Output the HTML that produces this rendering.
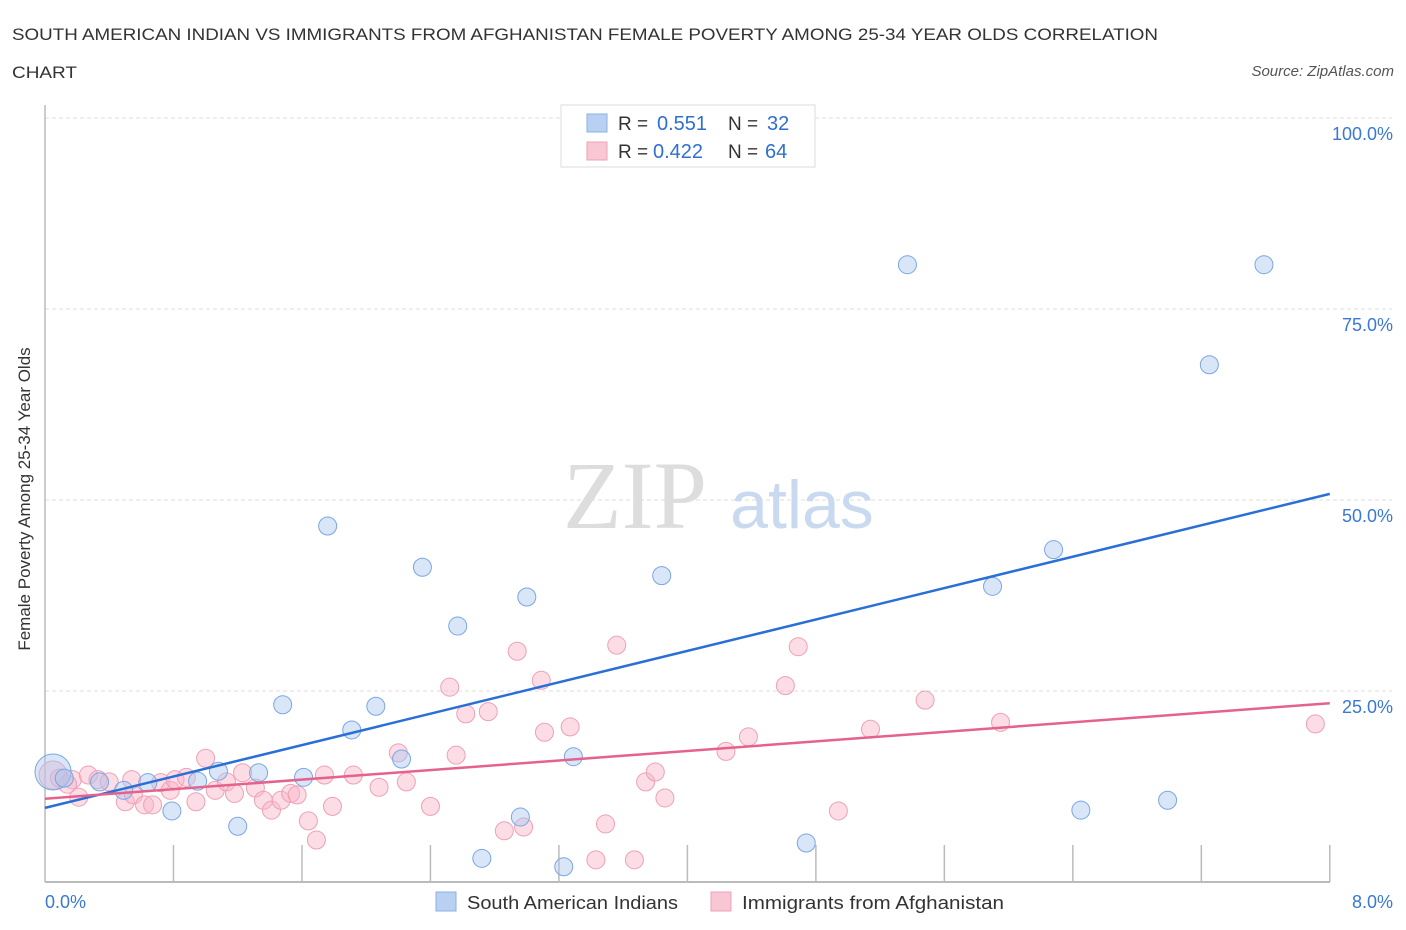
<!DOCTYPE html>
<html><head><meta charset="utf-8"><style>
body{margin:0;background:#fff;font-family:"Liberation Sans",sans-serif;}
svg{display:block}
</style></head><body>
<svg id="c" width="1406" height="930" xmlns="http://www.w3.org/2000/svg">
<text x="12" y="40" font-size="17" fill="#333" textLength="1146" lengthAdjust="spacingAndGlyphs">SOUTH AMERICAN INDIAN VS IMMIGRANTS FROM AFGHANISTAN FEMALE POVERTY AMONG 25-34 YEAR OLDS CORRELATION</text>
<text x="12" y="78" font-size="17" fill="#333" textLength="65" lengthAdjust="spacingAndGlyphs">CHART</text>
<text x="1394" y="76" font-size="15" fill="#555" font-style="italic" text-anchor="end">Source: ZipAtlas.com</text>
<text x="24" y="493" font-size="17" fill="#333" text-anchor="middle" transform="rotate(-90 30 493)">Female Poverty Among 25-34 Year Olds</text>
<g id="grid"></g>
<text x="635" y="528" font-size="96" font-family="Liberation Serif,serif" fill="#ddd" text-anchor="middle">ZIP</text>
<text x="802" y="528" font-size="68" fill="#c9daf0" text-anchor="middle">atlas</text>
<g id="pts"></g>
<g id="lines"></g>
<g>
<rect x="561" y="105" width="254" height="62" fill="#fff" stroke="#ddd"/>
<rect x="587" y="114" width="20" height="18" fill="#b8d1f3" stroke="#8ab0e6"/>
<rect x="587" y="142" width="20" height="18" fill="#f9c6d4" stroke="#eca3b8"/>
<text x="618" y="130" font-size="19" fill="#333">R =</text>
<text x="657" y="130" font-size="20" fill="#2f6fcf">0.551</text>
<text x="728" y="130" font-size="19" fill="#333">N =</text>
<text x="767" y="130" font-size="20" fill="#2f6fcf">32</text>
<text x="618" y="158" font-size="19" fill="#333">R =</text>
<text x="653" y="158" font-size="20" fill="#2f6fcf">0.422</text>
<text x="728" y="158" font-size="19" fill="#333">N =</text>
<text x="765" y="158" font-size="20" fill="#2f6fcf">64</text>
</g>
<g>
<rect x="436" y="892" width="20" height="19" fill="#b8d1f3" stroke="#8ab0e6"/>
<text x="467" y="909" font-size="18" fill="#333" textLength="211" lengthAdjust="spacingAndGlyphs">South American Indians</text>
<rect x="711" y="892" width="20" height="19" fill="#f9c6d4" stroke="#eca3b8"/>
<text x="742" y="909" font-size="18" fill="#333" textLength="262" lengthAdjust="spacingAndGlyphs">Immigrants from Afghanistan</text>
</g>
</svg>
<script>
const xTicks=[0,0.8,1.6,2.4,3.2,4.0,4.8,5.6,6.4,7.2,8.0];
const yTicks=[25,50,75,100];
const yTickLabels=["25.0%","50.0%","75.0%","100.0%"];
const blueX=[0.05,0.34,0.49,0.64,0.79,0.95,1.08,1.20,1.33,1.48,1.61,1.76,1.91,2.06,2.22,2.35,2.57,2.72,2.96,3.00,3.23,3.29,3.84,4.74,5.37,5.90,6.28,6.45,6.99,7.25,7.59,0.12];
const blueY=[14.4,13.1,12.0,13.0,9.3,13.2,14.5,7.3,14.3,23.2,13.7,46.6,19.9,23.0,16.1,41.2,33.5,3.1,8.5,37.3,2.0,16.4,40.1,5.1,80.8,38.7,43.5,9.4,10.7,67.7,80.8,13.6];
const pinkX=[0.05,0.09,0.17,0.21,0.27,0.33,0.40,0.50,0.54,0.55,0.62,0.67,0.72,0.78,0.81,0.88,0.94,1.00,1.06,1.13,1.18,1.23,1.31,1.36,1.41,1.47,1.53,1.57,1.64,1.69,1.74,1.79,1.92,2.08,2.20,2.25,2.40,2.52,2.56,2.62,2.76,2.86,2.94,2.98,3.09,3.11,3.27,3.43,3.49,3.56,3.67,3.74,3.80,3.86,4.24,4.38,4.61,4.69,4.94,5.14,5.48,5.95,7.91,0.14];
const pinkY=[14.0,13.6,13.4,11.1,14.0,13.4,13.1,10.5,13.4,11.4,10.1,10.1,13.0,12.0,13.4,13.7,10.5,16.2,12.0,13.1,11.6,14.3,12.3,10.7,9.4,10.7,11.6,11.4,8.0,5.5,14.0,9.9,14.0,12.4,16.9,13.1,9.9,25.5,16.6,22.0,22.3,6.7,30.2,7.2,26.4,19.6,20.3,2.9,7.6,31.0,2.9,13.1,14.4,11.0,17.1,19.0,25.7,30.8,9.3,20.0,23.8,20.9,20.7,12.8];
const blueTrend=[9.7,50.8];
const pinkTrend=[10.9,23.4];
const NS="http://www.w3.org/2000/svg";
const X=v=>45+v*160.6, Y=v=>882-v*7.64;
function mk(t,a,p){const e=document.createElementNS(NS,t);for(const k in a)e.setAttribute(k,a[k]);p.appendChild(e);return e;}
const g=document.getElementById('grid');
yTicks.forEach((t,i)=>{
 const l=mk('line',{x1:45,x2:1392,y1:Y(t),y2:Y(t),stroke:'#ddd','stroke-dasharray':'4,3'},g);
 
 
 const tx=mk('text',{x:1393,y:Y(t)+22,'font-size':18,fill:'#3a78d4','text-anchor':'end'},g);
 tx.textContent=yTickLabels[i];
 
 
});
const ax=mk('line',{x1:45,x2:1330,y1:882,y2:882,stroke:'#bbb','stroke-width':2},g);


const ay=mk('line',{x1:45,x2:45,y1:105,y2:882,stroke:'#bbb','stroke-width':1.5},g);


xTicks.forEach(t=>{if(t===0)return;
 const l=mk('line',{x1:X(t),x2:X(t),y1:845,y2:882,stroke:'#bbb','stroke-width':1.5},g);
 
 
});
const xl0=mk('text',{x:45,y:908,'font-size':18,fill:'#3a78d4'},g);xl0.textContent='0.0%';


const xl1=mk('text',{x:1393,y:908,'font-size':18,fill:'#3a78d4','text-anchor':'end'},g);xl1.textContent='8.0%';


const P=document.getElementById('pts');
pinkX.forEach((x,i)=>{
 const c=mk('circle',{cx:X(x),cy:Y(pinkY[i]),r:i===0?14:9,fill:'rgba(248,180,200,0.45)',stroke:'#eea0b6','stroke-width':1},P);
 
 
});
blueX.forEach((x,i)=>{
 const c=mk('circle',{cx:X(x),cy:Y(blueY[i]),r:i===0?18:9,fill:'rgba(170,200,240,0.45)',stroke:'#7aa6e2','stroke-width':1},P);
 
 
});
const L=document.getElementById('lines');
const bl=mk('line',{x1:X(0),y1:Y(blueTrend[0]),x2:X(8),y2:Y(blueTrend[1]),stroke:'#2a6fd6','stroke-width':2.5},L);


const pl=mk('line',{x1:X(0),y1:Y(pinkTrend[0]),x2:X(8),y2:Y(pinkTrend[1]),stroke:'#e5628c','stroke-width':2.5},L);


</script>
</body></html>
